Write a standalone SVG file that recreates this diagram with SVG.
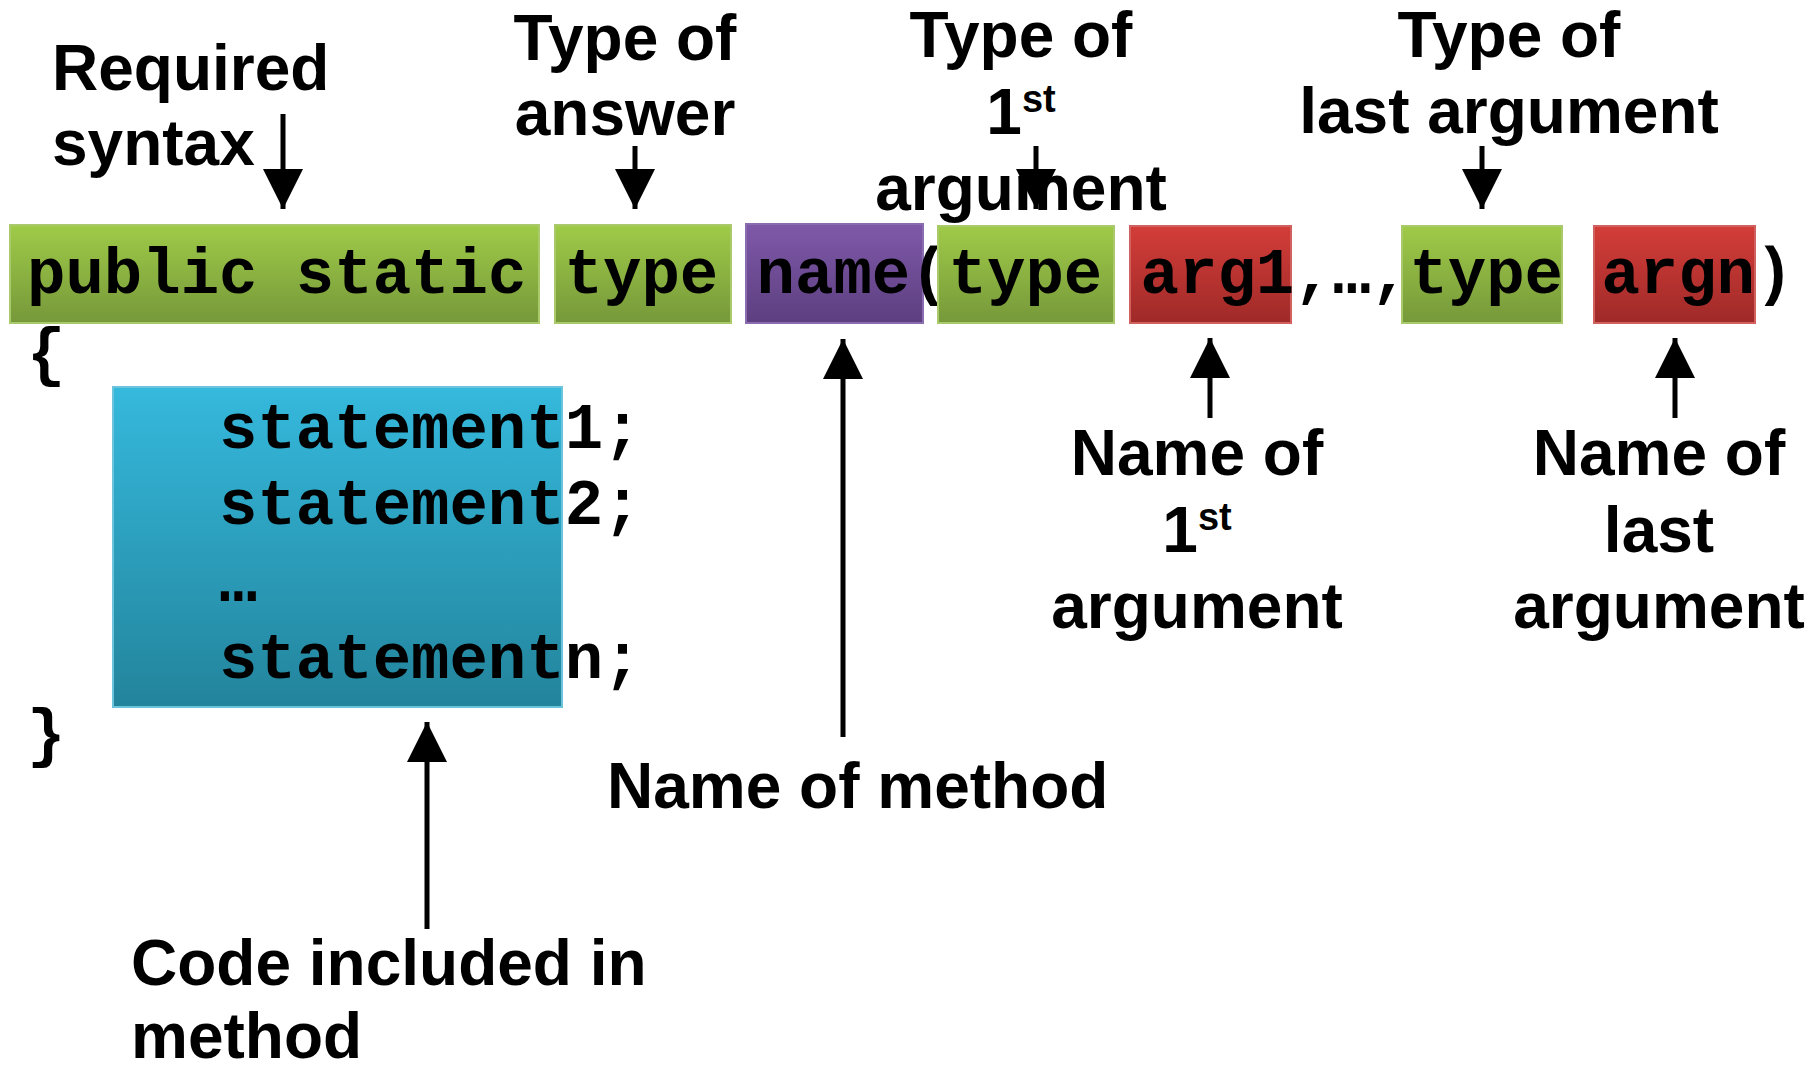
<svg xmlns="http://www.w3.org/2000/svg" width="1820" height="1066" viewBox="0 0 1820 1066">
  <defs>
    <linearGradient id="gGreen" x1="0" y1="0" x2="0" y2="1">
      <stop offset="0" stop-color="#9fcb48"/>
      <stop offset="1" stop-color="#76983a"/>
    </linearGradient>
    <linearGradient id="gPurple" x1="0" y1="0" x2="0" y2="1">
      <stop offset="0" stop-color="#7f59a9"/>
      <stop offset="1" stop-color="#5d3f80"/>
    </linearGradient>
    <linearGradient id="gRed" x1="0" y1="0" x2="0" y2="1">
      <stop offset="0" stop-color="#d33d39"/>
      <stop offset="1" stop-color="#9f2a28"/>
    </linearGradient>
    <linearGradient id="gBlue" x1="0" y1="0" x2="0" y2="1">
      <stop offset="0" stop-color="#35b9dd"/>
      <stop offset="1" stop-color="#23849c"/>
    </linearGradient>
    <marker id="head" markerUnits="userSpaceOnUse" markerWidth="40" markerHeight="40" viewBox="0 0 39 39" refX="39" refY="19.5" orient="auto">
      <path d="M0,0 L39,19.5 L0,39 Z" fill="#000"/>
    </marker>
  </defs>
  <style>
    .code { font-family: "Liberation Mono", "Courier New", monospace; font-weight: bold; font-size: 64px; fill: #000; }
    .lbl { font-family: "Liberation Sans", Arial, sans-serif; font-weight: bold; font-size: 64px; fill: #000; }
    .mid { text-anchor: middle; }
    .green { fill: url(#gGreen); stroke: #a9c96a; stroke-width: 2; }
    .purple { fill: url(#gPurple); stroke: #8a6cb0; stroke-width: 2; }
    .red { fill: url(#gRed); stroke: #d0615e; stroke-width: 2; }
    .blue { fill: url(#gBlue); stroke: #6cc3dc; stroke-width: 2; }
    .conn { stroke: #000; stroke-width: 5; fill: none; marker-end: url(#head); }
    .sup { font-size: 38px; }
  </style>

  <g id="node-public-static">
    <rect class="green" x="10" y="225" width="529" height="98"/>
    <text class="code" x="27" y="293">public static</text>
  </g>
  <g id="node-type-answer">
    <rect class="green" x="555" y="225" width="176" height="98"/>
    <text class="code" x="564.6" y="293">type</text>
  </g>
  <g id="node-name">
    <rect class="purple" x="746" y="224" width="177" height="99"/>
    <text class="code" x="756.6" y="293">name</text>
  </g>
  <text class="code" x="910.2" y="293">(</text>
  <g id="node-type-arg1">
    <rect class="green" x="938" y="226" width="176" height="97"/>
    <text class="code" x="948.6" y="293">type</text>
  </g>
  <g id="node-arg1">
    <rect class="red" x="1130" y="226" width="161" height="97"/>
    <text class="code" x="1140.6" y="293">arg1</text>
  </g>
  <text class="code" x="1294.2" y="293">,…,</text>
  <g id="node-type-argn">
    <rect class="green" x="1402" y="226" width="160" height="97"/>
    <text class="code" x="1409.4" y="293">type</text>
  </g>
  <g id="node-argn">
    <rect class="red" x="1594" y="226" width="161" height="97"/>
    <text class="code" x="1601.4" y="293">argn</text>
  </g>
  <text class="code" x="1755" y="293">)</text>

  <text class="code" x="27" y="374">{</text>
  <g id="node-body">
    <rect class="blue" x="113" y="387" width="449" height="320"/>
    <text class="code" x="219" y="448">statement1;</text>
    <text class="code" x="219" y="524">statement2;</text>
    <text class="code" x="219" y="601">…</text>
    <text class="code" x="219" y="678">statementn;</text>
  </g>
  <text class="code" x="27" y="755">}</text>

  <g id="label-required-syntax">
    <text class="lbl" x="52" y="90">Required</text>
    <text class="lbl" x="52" y="165">syntax</text>
  </g>
  <g id="label-type-answer">
    <text class="lbl mid" x="625" y="60">Type of</text>
    <text class="lbl mid" x="625" y="135">answer</text>
  </g>
  <g id="label-type-first">
    <text class="lbl mid" x="1021" y="57">Type of</text>
    <text class="lbl mid" x="1021" y="134">1<tspan class="sup" dy="-22">st</tspan></text>
    <text class="lbl mid" x="1021" y="210">argument</text>
  </g>
  <g id="label-type-last">
    <text class="lbl mid" x="1509" y="57">Type of</text>
    <text class="lbl mid" x="1509" y="133">last argument</text>
  </g>
  <g id="label-name-first">
    <text class="lbl mid" x="1197" y="475">Name of</text>
    <text class="lbl mid" x="1197" y="552">1<tspan class="sup" dy="-22">st</tspan></text>
    <text class="lbl mid" x="1197" y="628">argument</text>
  </g>
  <g id="label-name-last">
    <text class="lbl mid" x="1659" y="475">Name of</text>
    <text class="lbl mid" x="1659" y="552">last</text>
    <text class="lbl mid" x="1659" y="628">argument</text>
  </g>
  <g id="label-name-method">
    <text class="lbl" x="607" y="808">Name of method</text>
  </g>
  <g id="label-code">
    <text class="lbl" x="131" y="985">Code included in</text>
    <text class="lbl" x="131" y="1058">method</text>
  </g>

  <g id="connectors">
    <line class="conn" x1="283" y1="114" x2="283" y2="209"/>
    <line class="conn" x1="635" y1="146" x2="635" y2="209"/>
    <line class="conn" x1="1036" y1="146" x2="1036" y2="209"/>
    <line class="conn" x1="1482" y1="146" x2="1482" y2="209"/>
    <line class="conn" x1="843" y1="737" x2="843" y2="339"/>
    <line class="conn" x1="427" y1="929" x2="427" y2="722"/>
    <line class="conn" x1="1210" y1="418" x2="1210" y2="338"/>
    <line class="conn" x1="1675" y1="418" x2="1675" y2="338"/>
  </g>
</svg>
